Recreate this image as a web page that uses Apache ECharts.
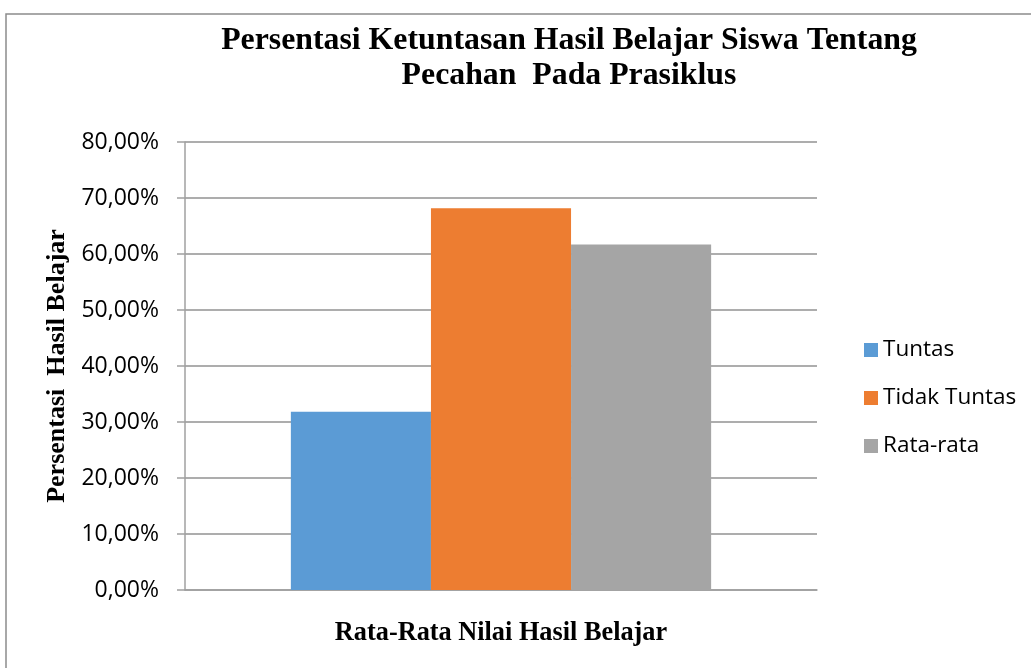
<!DOCTYPE html>
<html>
<head>
<meta charset="utf-8">
<script src="https://cdn.jsdelivr.net/npm/echarts@6/dist/echarts.min.js"></script>
<style>
  html, body { margin: 0; padding: 0; background: #ffffff; }
  #chart { width: 1031px; height: 668px; }
</style>
</head>
<body>
<div id="chart"></div>
<script>
// Ketuntasan hasil belajar siswa (prasiklus), dalam persen
const categories = ['Rata-Rata Nilai Hasil Belajar'];
const seriesNames = ['Tuntas', 'Tidak Tuntas', 'Rata-rata'];
const tuntas = [31.82];
const tidakTuntas = [68.18];
const rataRata = [61.7];
const seriesColors = ['#5B9BD5', '#ED7D31', '#A5A5A5'];

const yMin = 0, yMax = 80, yStep = 10;

const chart = echarts.init(document.getElementById('chart'), null, { renderer: 'canvas' });

const values = [tuntas, tidakTuntas, rataRata];
const serif = '"Liberation Serif", "Times New Roman", serif';
const sans = '"Open Sans", "Liberation Sans", sans-serif';

const option = {
  animation: false,
  backgroundColor: '#ffffff',
  graphic: [
    {
      type: 'rect',
      shape: { x: 6, y: 14, width: 1100, height: 700 },
      style: { fill: 'none', stroke: '#8c8c8c', lineWidth: 1.5 },
      silent: true
    }
  ],
  title: {
    text: 'Persentasi Ketuntasan Hasil Belajar Siswa Tentang\nPecahan  Pada Prasiklus',
    left: 564,
    top: 18,
    textAlign: 'center',
    textStyle: {
      fontFamily: serif,
      fontWeight: 'bold',
      fontSize: 31.8,
      lineHeight: 35,
      color: '#000000'
    }
  },
  legend: {
    orient: 'vertical',
    left: 859,
    top: 333,
    itemWidth: 14,
    itemHeight: 14,
    itemGap: 24,
    icon: 'rect',
    data: seriesNames,
    textStyle: {
      fontFamily: sans,
      fontSize: 22.5,
      lineHeight: 24,
      color: '#000000',
      padding: [0, 0, 0, 0]
    }
  },
  grid: {
    left: 185,
    right: 1031 - 817,
    top: 142,
    bottom: 668 - 590,
    containLabel: false
  },
  xAxis: {
    type: 'category',
    data: categories,
    name: categories[0],
    nameLocation: 'middle',
    nameGap: 30,
    nameTextStyle: {
      fontFamily: serif,
      fontWeight: 'bold',
      fontSize: 26.3,
      color: '#000000'
    },
    axisLine: { show: true, lineStyle: { color: '#a0a0a0', width: 1.5 } },
    axisTick: { show: false },
    axisLabel: { show: false }
  },
  yAxis: {
    type: 'value',
    min: yMin,
    max: yMax,
    interval: yStep,
    name: 'Persentasi  Hasil Belajar',
    nameLocation: 'middle',
    nameGap: 112,
    nameRotate: 90,
    nameTextStyle: {
      fontFamily: serif,
      fontWeight: 'bold',
      fontSize: 26,
      color: '#000000'
    },
    axisLine: { show: true, lineStyle: { color: '#a0a0a0', width: 1.5 } },
    axisTick: { show: true, length: 8, inside: false, lineStyle: { color: '#a0a0a0', width: 1.5 } },
    axisLabel: {
      margin: 26,
      fontFamily: sans,
      fontSize: 23,
      color: '#000000',
      formatter: v => v.toFixed(2).replace('.', ',') + '%'
    },
    splitLine: { show: true, lineStyle: { color: '#929292', width: 1.5 } }
  },
  series: seriesNames.map((name, i) => ({
    name: name,
    type: 'bar',
    data: values[i],
    barGap: '0%',
    barCategoryGap: '33.5%',
    itemStyle: { color: seriesColors[i] }
  }))
};

chart.setOption(option);
</script>
</body>
</html>
